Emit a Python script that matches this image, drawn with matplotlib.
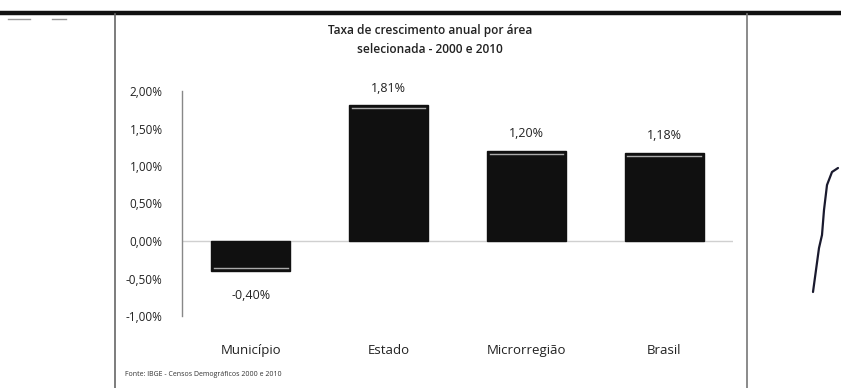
import matplotlib
matplotlib.use("Agg")
import matplotlib.pyplot as plt
from matplotlib.lines import Line2D

categories = ["Município", "Estado", "Microrregião", "Brasil"]
growth = [-0.40, 1.81, 1.20, 1.18]
yticks = [-1.0, -0.5, 0.0, 0.5, 1.0, 1.5, 2.0]
title = "Taxa de crescimento anual por área\nselecionada - 2000 e 2010"
source = "Fonte: IBGE - Censos Demográficos 2000 e 2010"

def br_pct(v):
    return f"{v:.2f}%".replace(".", ",")

plt.rcParams["font.family"] = ["Open Sans", "DejaVu Sans"]

W, H = 841, 388
fig = plt.figure(figsize=(W / 100, H / 100), dpi=100)
fig.patch.set_facecolor("white")

def fx(px):
    return px / W

def fy(py):
    return 1 - py / H

# page frame: heavy rule on top, thin box edges
fig.add_artist(Line2D([0, 1], [fy(13), fy(13)], color="#111111", lw=3.2))
fig.add_artist(Line2D([fx(115), fx(115)], [fy(14), 0], color="#666666", lw=1.2))
fig.add_artist(Line2D([fx(747), fx(747)], [fy(14), 0], color="#777777", lw=1.2))
fig.add_artist(Line2D([fx(8), fx(30)], [fy(19), fy(19)], color="#999999", lw=1.0))
fig.add_artist(Line2D([fx(52), fx(66)], [fy(19), fy(19)], color="#999999", lw=1.0))

# handwritten mark on the right margin
fig.add_artist(Line2D(
    [fx(813), fx(816), fx(819), fx(822), fx(824), fx(827), fx(832), fx(838)],
    [fy(292), fy(270), fy(248), fy(235), fy(210), fy(185), fy(172), fy(168)],
    color="#1a1a2e", lw=1.6, solid_capstyle="round"))

fig.text(fx(430), fy(40), title, ha="center", va="center", fontsize=8.6,
         fontweight="semibold", linespacing=1.55, color="#222222")

ax = fig.add_axes([fx(182), fy(316), fx(733) - fx(182), fy(91) - fy(316)])
x = list(range(len(categories)))
bars = ax.bar(x, growth, width=0.575, color="#101010", edgecolor="#101010", zorder=3)

# light sheen near the outer edge of each bar
for b, v in zip(bars, growth):
    y_edge = v - 0.04 if v > 0 else v + 0.04
    ax.plot([b.get_x() + 0.02, b.get_x() + b.get_width() - 0.02], [y_edge, y_edge],
            color="#aaaaaa", lw=1.0, zorder=4)

ax.axhline(0, color="#d0d0d0", lw=1.0, zorder=2)
ax.set_ylim(-1.0, 2.0)
ax.set_xlim(-0.50, 3.50)
ax.set_yticks(yticks)
ax.set_yticklabels([br_pct(t) for t in yticks], fontsize=8.5, color="#222222")
ax.set_xticks(x)
ax.set_xticklabels(categories, fontsize=9.5, color="#222222")
ax.tick_params(axis="y", length=0, pad=14)
ax.tick_params(axis="x", length=0, pad=20)
for s in ["top", "right", "bottom"]:
    ax.spines[s].set_visible(False)
ax.spines["left"].set_color("#888888")
ax.spines["left"].set_linewidth(1.0)

for xi, v in zip(x, growth):
    off = 0.23 if v > 0 else -0.33
    ax.text(xi, v + off, br_pct(v), ha="center", va="center", fontsize=9,
            color="#222222")

fig.text(fx(125), fy(375), source, ha="left", va="center", fontsize=5,
         color="#333333")

fig.savefig("out.png", dpi=100, facecolor="white")
